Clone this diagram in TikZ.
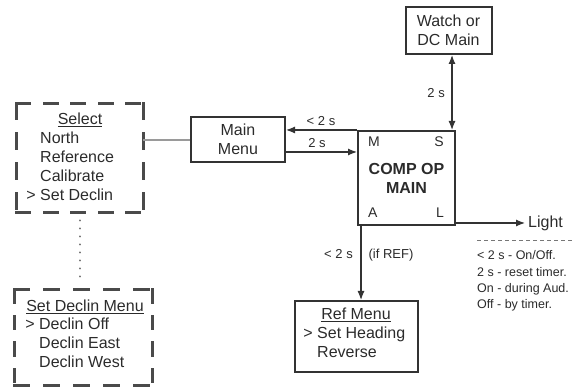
\documentclass[tikz,border=0pt]{standalone}
\usepackage{fontspec}
\setmainfont{Liberation Sans}
\usetikzlibrary{arrows.meta,calc}
\definecolor{ink}{HTML}{2B2B2B}
\definecolor{boxc}{HTML}{333333}
\definecolor{dashc}{HTML}{4A4A4A}
\definecolor{lgray}{HTML}{9A9A9A}
\definecolor{dotc}{HTML}{777777}
\tikzset{
  box/.style={draw=boxc, line width=2pt, inner sep=0pt, text=ink, align=center,
    font=\fontsize{16}{19}\selectfont},
  dbox/.style={inner sep=0pt},
  dside/.style={draw=dashc, line width=3pt, line cap=rect},
  big/.style={font=\fontsize{16}{19}\selectfont, text=ink, inner sep=0pt, anchor=base},
  bigl/.style={big, anchor=base west},
  corner/.style={font=\fontsize{14}{17}\selectfont, text=ink, inner sep=0pt},
  small/.style={font=\fontsize{13}{16}\selectfont, text=ink, inner sep=0pt, anchor=base},
  note/.style={font=\fontsize{12.5}{16}\selectfont, text=ink, inner sep=0pt, anchor=base west},
  arr/.style={draw=boxc, line width=1.2pt, -{Latex[length=9pt,width=7pt]}},
  darr/.style={draw=boxc, line width=1.2pt, {Latex[length=9pt,width=7pt]}-{Latex[length=9pt,width=7pt]}},
}
\begin{document}
\begin{tikzpicture}[x=1pt,y=-1pt]
\useasboundingbox (0,0) rectangle (584,387);

% boxes
\node[box, minimum width=86pt, minimum height=47pt] (watch) at (448.5,30.5) {Watch or\\DC Main};
\node[box, minimum width=94pt, minimum height=45pt] (mainmenu) at (238,139.5) {Main\\Menu};
\node[box, minimum width=97pt, minimum height=94pt, font=\fontsize{16}{19}\selectfont\bfseries] (comp) at (406.5,178) {COMP OP\\MAIN};
\node[box, minimum width=123pt, minimum height=71pt] (refmenu) at (356.5,336.5) {};
\node[dbox, minimum width=126pt, minimum height=108pt] (select) at (80,158) {};
\node[dbox, minimum width=137pt, minimum height=95pt] (declin) at (83.5,337.5) {};

% dashed borders, side by side so that the corners stay solid
\draw[dside, dash pattern=on 13pt off 14.5pt] (select.north west) -- (select.north east);
\draw[dside, dash pattern=on 13pt off 14.5pt] (select.south west) -- (select.south east);
\draw[dside, dash pattern=on 15pt off 15pt] (select.north west) -- (select.south west);
\draw[dside, dash pattern=on 15pt off 15pt] (select.north east) -- (select.south east);
\draw[dside, dash pattern=on 14pt off 16pt] (declin.north west) -- (declin.north east);
\draw[dside, dash pattern=on 14pt off 16pt] (declin.south west) -- (declin.south east);
\draw[dside, dash pattern=on 12.5pt off 14pt] (declin.north west) -- (declin.south west);
\draw[dside, dash pattern=on 12.5pt off 14pt] (declin.north east) -- (declin.south east);

% corner letters
\node[corner, anchor=base west] (cm) at (368,147) {M};
\node[corner, anchor=base east] (cs) at (444,147) {S};
\node[corner, anchor=base west] (ca) at (368,218) {A};
\node[corner, anchor=base east] (cl) at (444,218) {L};

% select text
\node[big] (selt) at (80,125) {\underline{Select}};
\node[bigl] (sel1) at (40,144) {North};
\node[bigl] (sel2) at (40,163) {Reference};
\node[bigl] (sel3) at (40,182) {Calibrate};
\node[bigl] (sel4) at (40,201) {\llap{> }Set Declin};

% declin text
\node[big] (dect) at (85,312) {\underline{Set Declin Menu}};
\node[bigl] (dec1) at (39,330) {\llap{> }Declin Off};
\node[bigl] (dec2) at (39,349) {Declin East};
\node[bigl] (dec3) at (39,368) {Declin West};

% ref menu text
\node[big] (reft) at (356,320) {\underline{Ref Menu}};
\node[bigl] (ref1) at (317,339) {\llap{> }Set Heading};
\node[bigl] (ref2) at (317,358) {Reverse};

% labels
\node[small] (l1) at (321,126) {< 2 s};
\node[small] (l2) at (317,148) {2 s};
\node[small, anchor=base east] (l3) at (445,98) {2 s};
\node[small] (l4) at (338.5,259) {< 2 s};
\node[small] (l5) at (391,259) {(if REF)};

% light
\node[big, anchor=west, inner sep=3pt] (light) at (525,223) {Light};
\node[note] (n1) at (477,260) {< 2 s - On/Off.};
\node[note] (n2) at (477,277) {2 s - reset timer.};
\node[note] (n3) at (477,293) {On - during Aud.};
\node[note] (n4) at (477,309) {Off - by timer.};
\coordinate (nd1) at (477,240);
\coordinate (nd2) at (572,240);
\draw[dotc, line width=0.8pt, dash pattern=on 4pt off 3pt] (nd1) -- (nd2);

% connectors
\coordinate (g1) at ($(select.east)+(0,-18)$);
\draw[lgray, line width=1.5pt] (g1) -- (g1 -| mainmenu.west);

\coordinate (d1) at ($(select.south)+(0,8)$);
\coordinate (d2) at ($(select.south |- declin.north)+(0,-8)$);
\draw[dotc, line width=1.6pt, line cap=round, dash pattern=on 0.5pt off 7.5pt] (d1) -- (d2);

\draw[arr] (comp.north west) -- (comp.north west -| mainmenu.east);
\coordinate (m2) at ($(mainmenu.east)+(0,12.5)$);
\draw[arr] (m2) -- (m2 -| comp.west);

\coordinate (da) at ($(comp.north east)+(-4,0)$);
\draw[darr] (da) -- (da |- watch.south);

\coordinate (db) at ($(comp.south west)+(4,0)$);
\draw[arr] (db) -- (db |- refmenu.north);

\draw[arr] (comp.south east |- light.west) -- (light.west);
\end{tikzpicture}
\end{document}
